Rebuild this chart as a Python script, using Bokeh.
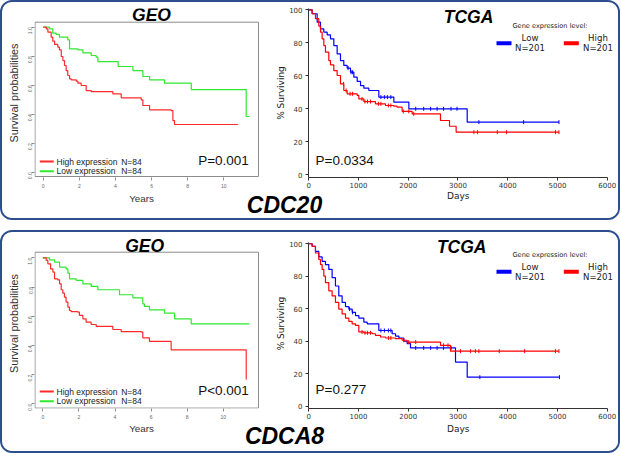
import math
import numpy as np
from bokeh.plotting import figure
from bokeh.models import Label, Range1d, FixedTicker, PrintfTickFormatter
from bokeh.layouts import row, column
from bokeh.embed import file_html
from bokeh.resources import INLINE

# ---------------- data ----------------
panel_genes = ["CDC20", "CDCA8"]
geo_titles = ["GEO", "GEO"]
tcga_titles = ["TCGA", "TCGA"]
geo_legend = ["High expression", "Low expression"]
geo_n = ["N=84", "N=84"]
geo_p = ["P=0.001", "P<0.001"]
tcga_p = ["P=0.0334", "P=0.277"]
tcga_legend_title = "Gene expression level:"
tcga_groups = ["Low", "High"]
tcga_n = ["N=201", "N=201"]
geo_xlabel = "Years"
geo_ylabel = "Survival probabilities"
tcga_xlabel = "Days"
tcga_ylabel = "% Surviving"

geo_xticks = [0, 2, 4, 6, 8, 10]
geo_yticks = [0.0, 0.2, 0.4, 0.6, 0.8, 1.0]
tcga_xticks = [0, 1000, 2000, 3000, 4000, 5000, 6000]
tcga_yticks = [0, 20, 40, 60, 80, 100]

# GEO, CDC20
geo1_high_t = [0, 0.17, 0.26, 0.44, 0.53, 0.63, 0.81, 0.90, 1.00, 1.09, 1.18, 1.27, 1.36, 1.46, 1.55,
               1.83, 1.92, 2.10, 2.38, 2.66, 3.86, 4.32, 5.43, 5.52, 5.89, 7.09, 7.18, 7.27, 10.78]
geo1_high_s = [1.0, 0.989, 0.966, 0.931, 0.904, 0.881, 0.862, 0.844, 0.798, 0.770, 0.736, 0.701, 0.667,
               0.644, 0.637, 0.628, 0.614, 0.598, 0.563, 0.556, 0.540, 0.513, 0.499, 0.460, 0.430, 0.425,
               0.356, 0.329, 0.329]
geo1_low_t = [0, 0.35, 0.53, 0.72, 0.90, 1.36, 1.46, 1.92, 2.20, 2.66, 2.93, 3.03, 4.15, 4.97, 5.52,
              5.89, 6.72, 8.20, 11.24, 11.43]
geo1_low_s = [1.0, 0.989, 0.959, 0.950, 0.931, 0.913, 0.851, 0.844, 0.823, 0.805, 0.793, 0.763, 0.729,
              0.701, 0.660, 0.637, 0.614, 0.570, 0.384, 0.384]

# GEO, CDCA8
geo2_high_t = [0, 0.19, 0.28, 0.43, 0.56, 0.65, 0.83, 0.93, 1.02, 1.11, 1.20, 1.29, 1.39, 1.48, 1.57,
               1.94, 2.03, 2.22, 2.40, 2.68, 2.96, 3.88, 4.34, 5.45, 5.54, 5.91, 7.11, 11.27]
geo2_high_s = [1.0, 0.982, 0.959, 0.924, 0.902, 0.856, 0.849, 0.822, 0.781, 0.758, 0.731, 0.696, 0.662,
               0.639, 0.632, 0.628, 0.605, 0.582, 0.559, 0.543, 0.530, 0.509, 0.495, 0.491, 0.452, 0.427,
               0.370, 0.166]
geo2_low_t = [0, 0.37, 0.65, 0.93, 1.29, 1.39, 1.48, 1.85, 2.22, 2.68, 3.05, 4.25, 4.99, 5.54, 5.63,
              5.91, 6.74, 7.30, 8.22, 11.45]
geo2_low_s = [1.0, 0.986, 0.970, 0.936, 0.924, 0.895, 0.856, 0.845, 0.822, 0.804, 0.781, 0.747, 0.726,
              0.685, 0.667, 0.644, 0.621, 0.582, 0.548, 0.548]

# TCGA, CDC20
tcga1_low_t = [0, 67, 168, 235, 302, 369, 436, 503, 570, 637, 704, 771, 838, 906, 973, 1040, 1107, 1207,
               1408, 1710, 2012, 3185, 5030]
tcga1_low_s = [100, 97.6, 92.5, 88.4, 86.4, 84.8, 82.4, 78.3, 73.2, 69.2, 66.2, 64.6, 62.1, 59.1, 56.5,
               54.0, 52.4, 51.0, 47.0, 44.0, 39.9, 31.8, 31.8]
tcga1_low_cens = [790, 850, 880, 1450, 1520, 1580, 1650, 2150, 2310, 2450, 2580, 2710, 2860, 2980, 3420,
                  4320, 5030]
tcga1_high_t = [0, 67, 134, 201, 235, 268, 302, 335, 402, 436, 503, 570, 637, 704, 771, 973, 1006, 1107,
                1341, 1542, 1710, 1777, 1877, 2078, 2648, 2830, 2963, 5030]
tcga1_high_s = [100, 97.6, 94.6, 90.1, 86.4, 82.4, 78.3, 74.3, 69.2, 66.6, 63.1, 60.1, 55.0, 51.0, 49.0,
                48.0, 45.9, 44.3, 42.9, 41.9, 41.5, 40.9, 38.3, 36.8, 32.8, 29.3, 25.7, 25.7]
tcga1_high_cens = [700, 750, 830, 880, 1070, 1130, 1180, 1240, 1400, 1450, 1600, 1650, 1900, 2010, 2110,
                   3320, 3390, 3790, 3975, 4960, 5030]

# TCGA, CDCA8
tcga2_low_t = [0, 67, 134, 201, 268, 335, 402, 469, 536, 603, 670, 738, 805, 872, 939, 1006, 1107, 1174,
               1408, 1676, 1744, 1811, 1911, 1978, 2045, 2950, 3185, 5030]
tcga2_low_s = [100, 98.4, 95.3, 91.9, 89.2, 87.2, 84.2, 79.1, 74.0, 67.9, 63.9, 61.3, 59.8, 57.8, 55.8,
               54.2, 51.7, 50.7, 46.6, 44.6, 43.2, 42.0, 40.0, 38.5, 35.9, 27.2, 17.9, 17.9]
tcga2_low_cens = [820, 880, 1450, 1520, 1600, 1650, 2150, 2310, 2450, 2580, 2710, 2860, 3440, 5040]
tcga2_high_t = [0, 67, 134, 201, 235, 268, 302, 335, 402, 469, 536, 603, 670, 738, 805, 872, 939, 1006,
                1107, 1274, 1341, 1442, 1542, 1744, 1877, 1978, 2648, 2849, 5030]
tcga2_high_s = [100, 98.4, 94.3, 90.3, 87.2, 84.2, 80.1, 76.1, 71.0, 67.9, 63.9, 59.8, 56.8, 54.2, 52.2,
                50.7, 49.7, 45.7, 45.2, 44.6, 43.6, 42.6, 42.0, 41.6, 40.6, 39.5, 37.5, 33.9, 33.9]
tcga2_high_cens = [1070, 1130, 1180, 1240, 1600, 1650, 1910, 2010, 2150, 2710, 2800, 3050, 3250, 3350,
                   3420, 3830, 4340, 4960, 5030]

GEO_CURVES = [(geo1_high_t, geo1_high_s, geo1_low_t, geo1_low_s),
              (geo2_high_t, geo2_high_s, geo2_low_t, geo2_low_s)]
TCGA_CURVES = [(tcga1_low_t, tcga1_low_s, tcga1_low_cens, tcga1_high_t, tcga1_high_s, tcga1_high_cens),
               (tcga2_low_t, tcga2_low_s, tcga2_low_cens, tcga2_high_t, tcga2_high_s, tcga2_high_cens)]

# ---------------- styling / geometry (page pixels) ----------------
F_ARIAL = "Liberation Sans"
F_DEJA = "DejaVu Sans"
BORDER = "#2d4f8e"
GEO_RED = "#ff2b2b"
GEO_GREEN = "#2fe82f"
T_BLUE = "#0000ff"
T_RED = "#ff0000"

GEO_W = 266
TCGA_W = 350
INNER_W = GEO_W + TCGA_W
ROW_H = [189, 190]
STRIP_H = [27, 29]
ORIGIN_Y = [2, 232]
Y_AXIS_TOP = 100.5

# positions of texts are cap-centre positions in page pixels
GEO_G = [dict(x0=42.7, pxx=18.06, y0=171.7, pxy=145.0, box=(34.5, 258.0, 21.7, 176.0), mbl=32, mbt=6,
              mbb=14, title=(151.0, 14.8), p=(248.3, 160.0), key_x=(39.3, 53.3), key_y=(161.0, 170.7),
              lab_x=56.0, n_x=120.7),
         dict(x0=42.3, pxx=18.05, y0=403.3, pxy=146.0, box=(34.5, 258.0, 251.7, 407.6), mbl=32, mbt=6,
              mbb=14, title=(144.2, 245.9), p=(248.3, 390.3), key_x=(39.3, 53.3), key_y=(391.0, 400.7),
              lab_x=56.0, n_x=120.7)]
TCGA_G = [dict(x0=308.3, pxx=0.04973, y0=174.0, pxy=1.647, mbl=40, mbr=2, mbt=6, mbb=14,
               title=(468.0, 16.7), leg_y=25.7, key_y=42.7, grp_y=37.7, n_y=47.7, p=(315.0, 159.7)),
          dict(x0=308.3, pxx=0.04973, y0=407.7, pxy=1.644, mbl=40, mbr=2, mbt=6, mbb=12,
               title=(461.2, 246.9), leg_y=254.3, key_y=271.7, grp_y=266.7, n_y=276.7, p=(315.0, 390.3))]
LEG_X = dict(title=549.5, blue=(496.0, 511.0), red=(563.3, 578.3), low=529.5, high=597.5)
STRIP_G = [dict(years=(141.0, 198.3), days=(457.7, 195.2), gene=(284.0, 204.2)),
           dict(years=(141.0, 428.0), days=(457.7, 428.3), gene=(284.0, 435.0))]


def step_at(t, s, c):
    t = np.asarray(t, dtype=float)
    s = np.asarray(s, dtype=float)
    idx = np.searchsorted(t, np.asarray(c, dtype=float), side="right") - 1
    return s[idx]


def lab(p, x, y, text, size, font=F_ARIAL, style="normal", color="#111111", align="left"):
    p.add_layout(Label(x=x, y=y, text=text, text_font=font, text_font_size=f"{size}px",
                       text_font_style=style, text_color=color, text_align=align,
                       text_baseline="middle"))


def make_geo(k):
    g = GEO_G[k]
    gx = lambda px: (px - g["x0"]) / g["pxx"]
    gy = lambda py: (g["y0"] - py) / g["pxy"]
    ox, oy, H = 2, ORIGIN_Y[k], ROW_H[k]
    f_left, f_right = ox + g["mbl"], ox + GEO_W
    f_top, f_bottom = oy + g["mbt"], oy + H - g["mbb"]
    p = figure(width=GEO_W, height=H, title=None,
               x_range=Range1d(gx(f_left), gx(f_right)), y_range=Range1d(gy(f_bottom), gy(f_top)),
               output_backend="svg", toolbar_location=None,
               min_border_left=g["mbl"], min_border_right=0, min_border_top=g["mbt"],
               min_border_bottom=g["mbb"])
    p.grid.visible = False
    p.outline_line_color = None
    p.background_fill_color = "white"
    p.border_fill_color = "white"
    for ax in (p.xaxis[0], p.yaxis[0]):
        ax.axis_line_color = None
        ax.major_tick_line_color = "#8c8c8c"
        ax.major_tick_out = 3
        ax.major_tick_in = 0
        ax.minor_tick_line_color = None
        ax.major_label_text_font = F_ARIAL
        ax.major_label_text_font_size = "5px"
        ax.major_label_text_color = "#666666"
    p.xaxis.ticker = FixedTicker(ticks=geo_xticks)
    p.yaxis.ticker = FixedTicker(ticks=geo_yticks)
    p.yaxis.formatter = PrintfTickFormatter(format="%.1f")
    p.xaxis.major_label_standoff = 3
    p.yaxis.major_label_standoff = 1
    p.yaxis.major_label_orientation = math.pi / 2
    p.yaxis.axis_label = geo_ylabel
    p.yaxis.axis_label_text_font = F_ARIAL
    p.yaxis.axis_label_text_font_size = "10.8px"
    p.yaxis.axis_label_text_font_style = "normal"
    p.yaxis.axis_label_text_color = "#333333"
    p.yaxis.axis_label_standoff = 4

    # plot box (R style)
    bl, br, bt, bb = g["box"]
    p.quad(left=[gx(bl)], right=[gx(br)], top=[gy(bt)], bottom=[gy(bb)], fill_color=None,
           line_color="#8c8c8c", line_width=1)

    ht, hs, lt, ls = GEO_CURVES[k]
    p.step(lt, ls, mode="after", line_color=GEO_GREEN, line_width=1.2)
    p.step(ht, hs, mode="after", line_color=GEO_RED, line_width=1.2)

    # legend keys
    kx0, kx1 = gx(g["key_x"][0]), gx(g["key_x"][1])
    ky = [gy(v) for v in g["key_y"]]
    p.segment(x0=[kx0], y0=[ky[0]], x1=[kx1], y1=[ky[0]], line_color=GEO_RED, line_width=2)
    p.segment(x0=[kx0], y0=[ky[1]], x1=[kx1], y1=[ky[1]], line_color=GEO_GREEN, line_width=2)
    for i in range(2):
        lab(p, gx(g["lab_x"]), ky[i], geo_legend[i], 8.5, color="#222222")
        lab(p, gx(g["n_x"]), ky[i], geo_n[i], 8.5, color="#222222")

    lab(p, gx(g["title"][0]), gy(g["title"][1]), geo_titles[k], 17.5, style="bold italic",
        color="#000000", align="center")
    lab(p, gx(g["p"][0]), gy(g["p"][1]), geo_p[k], 13.5, color="#111111", align="right")
    return p


def make_tcga(k):
    g = TCGA_G[k]
    tx = lambda px: (px - g["x0"]) / g["pxx"]
    ty = lambda py: (g["y0"] - py) / g["pxy"]
    ox, oy, H = 2 + GEO_W, ORIGIN_Y[k], ROW_H[k]
    f_left, f_right = ox + g["mbl"], ox + TCGA_W - g["mbr"]
    f_top, f_bottom = oy + g["mbt"], oy + H - g["mbb"]
    p = figure(width=TCGA_W, height=H, title=None,
               x_range=Range1d(tx(f_left), tx(f_right)), y_range=Range1d(ty(f_bottom), ty(f_top)),
               output_backend="svg", toolbar_location=None,
               min_border_left=g["mbl"], min_border_right=g["mbr"], min_border_top=g["mbt"],
               min_border_bottom=g["mbb"])
    p.grid.visible = False
    p.outline_line_color = None
    p.background_fill_color = "white"
    p.border_fill_color = "white"
    for ax in (p.xaxis[0], p.yaxis[0]):
        ax.axis_line_color = "#333333"
        ax.major_tick_line_color = "#333333"
        ax.major_tick_out = 3
        ax.major_tick_in = 0
        ax.minor_tick_line_color = None
        ax.major_label_text_font = F_DEJA
        ax.major_label_text_font_size = "7px"
        ax.major_label_text_color = "#333333"
    p.xaxis.ticker = FixedTicker(ticks=tcga_xticks)
    p.yaxis.ticker = FixedTicker(ticks=tcga_yticks)
    p.xaxis.bounds = (tcga_xticks[0], tcga_xticks[-1])
    p.yaxis.bounds = (ty(f_bottom), Y_AXIS_TOP)
    p.xaxis.major_label_standoff = 1
    p.yaxis.major_label_standoff = 3
    p.yaxis.axis_label = tcga_ylabel
    p.yaxis.axis_label_text_font = F_DEJA
    p.yaxis.axis_label_text_font_size = "9px"
    p.yaxis.axis_label_text_font_style = "normal"
    p.yaxis.axis_label_text_color = "#222222"
    p.yaxis.axis_label_standoff = 0

    lt, ls, lc, ht, hs, hc = TCGA_CURVES[k]
    p.step(lt, ls, mode="after", line_color=T_BLUE, line_width=1.2)
    p.scatter(lc, step_at(lt, ls, lc), marker="dash", angle=math.pi / 2, size=4,
              line_color=T_BLUE, line_width=1)
    p.step(ht, hs, mode="after", line_color=T_RED, line_width=1.2)
    p.scatter(hc, step_at(ht, hs, hc), marker="dash", angle=math.pi / 2, size=4,
              line_color=T_RED, line_width=1)

    lab(p, tx(g["title"][0]), ty(g["title"][1]), tcga_titles[k], 17.5, style="bold italic",
        color="#000000", align="center")
    lab(p, tx(LEG_X["title"]), ty(g["leg_y"]), tcga_legend_title, 6.6, font=F_DEJA,
        color="#222222", align="center")
    ky = ty(g["key_y"])
    p.segment(x0=[tx(LEG_X["blue"][0])], y0=[ky], x1=[tx(LEG_X["blue"][1])], y1=[ky],
              line_color=T_BLUE, line_width=4)
    p.segment(x0=[tx(LEG_X["red"][0])], y0=[ky], x1=[tx(LEG_X["red"][1])], y1=[ky],
              line_color=T_RED, line_width=4)
    for i, key in enumerate(["low", "high"]):
        lab(p, tx(LEG_X[key]), ty(g["grp_y"]), tcga_groups[i], 8.6, font=F_DEJA, color="#222222",
            align="center")
        lab(p, tx(LEG_X[key]), ty(g["n_y"]), tcga_n[i], 8.6, font=F_DEJA, color="#222222",
            align="center")
    lab(p, tx(g["p"][0]), ty(g["p"][1]), tcga_p[k], 13.5, color="#111111", align="left")
    return p


def make_strip(k):
    s = STRIP_G[k]
    h = STRIP_H[k]
    top = ORIGIN_Y[k] + ROW_H[k]
    p = figure(width=INNER_W, height=h, title=None, x_range=Range1d(0, INNER_W), y_range=Range1d(h, 0),
               x_axis_type=None, y_axis_type=None, min_border=0, output_backend="svg",
               toolbar_location=None)
    p.outline_line_color = None
    p.background_fill_color = "white"
    p.border_fill_color = "white"
    sx = lambda px: px - 2
    sy = lambda py: py - top
    lab(p, sx(s["years"][0]), sy(s["years"][1]), geo_xlabel, 9.8, color="#333333", align="center")
    lab(p, sx(s["days"][0]), sy(s["days"][1]), tcga_xlabel, 9, font=F_DEJA, color="#222222",
        align="center")
    lab(p, sx(s["gene"][0]), sy(s["gene"][1]), panel_genes[k], 23, style="bold italic",
        color="#000000", align="center")
    return p


panels = []
for k in range(2):
    panel = column(row(make_geo(k), make_tcga(k)), make_strip(k),
                   styles={"border": f"2px solid {BORDER}", "border-radius": "12px",
                           "overflow": "hidden", "background-color": "white"})
    panels.append(panel)

page = column(panels[0], panels[1], spacing=10)

open("out.html", "w").write(file_html(page, INLINE))
